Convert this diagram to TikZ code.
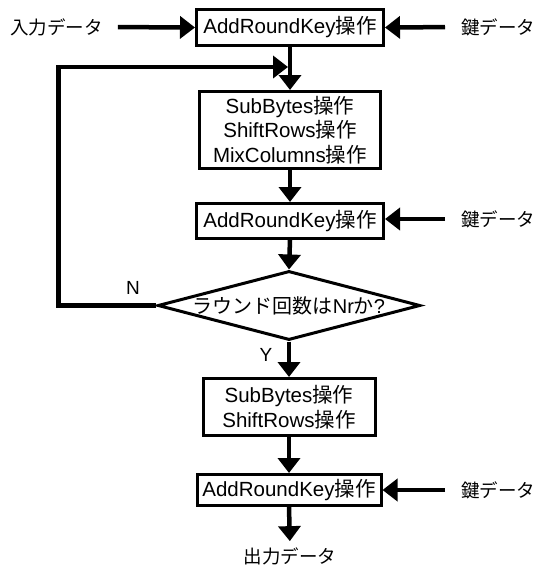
\documentclass[tikz,border=0pt]{standalone}
\usepackage{fontspec}
\setmainfont{Liberation Sans}
\newfontfamily\jpfont{Noto Sans CJK JP}
\newcommand{\jp}[1]{{\jpfont #1}}
\usetikzlibrary{arrows.meta,shapes.geometric}

\tikzset{
  opbox/.style={draw, line width=3pt, inner sep=0pt, align=center,
    font=\fontsize{20.5}{24.5}\selectfont},
  decide/.style={diamond, draw, line width=3pt, inner sep=0pt, aspect=3.8,
    minimum width=249pt, minimum height=64pt, font=\fontsize{20}{24}\selectfont},
  flow/.style={line width=4.5pt, -{Triangle[length=15pt,width=22pt]}},
  txt/.style={inner sep=0pt, font=\fontsize{18.5}{22}\selectfont}
}

\begin{document}
\begin{tikzpicture}[x=1pt,y=-1pt]
  \useasboundingbox (0,0) rectangle (539,570);

  % main column
  \node[opbox, minimum width=187pt, minimum height=36pt] at (290,27.5) (ark0) {AddRoundKey\jp{操作}};
  \node[opbox, minimum width=181pt, minimum height=77pt] at (290,130) (sub1) {SubBytes\jp{操作}\\ShiftRows\jp{操作}\\MixColumns\jp{操作}};
  \node[opbox, minimum width=187pt, minimum height=35pt] at (290,221) (ark1) {AddRoundKey\jp{操作}};
  \node[decide] at (289,305.5) (cond) {\jp{ラウンド回数は}Nr\jp{か}?};
  \node[opbox, minimum width=172pt, minimum height=57pt] at (289,407) (sub2) {SubBytes\jp{操作}\\ShiftRows\jp{操作}};
  \node[opbox, minimum width=184pt, minimum height=31pt] at (289,490) (ark2) {AddRoundKey\jp{操作}};

  % data labels
  \node[txt, anchor=west] at (10,27) (in) {\jp{入力データ}};
  \node[txt, anchor=west] at (461,27) (key0) {\jp{鍵データ}};
  \node[txt, anchor=west] at (461,219) (key1) {\jp{鍵データ}};
  \node[txt, anchor=west] at (461,490) (key2) {\jp{鍵データ}};
  \node[txt] at (290,556) (out) {\jp{出力データ}};
  \node[txt, font=\fontsize{19}{22}\selectfont] at (133,288) (no) {N};
  \node[txt, font=\fontsize{19}{22}\selectfont] at (266,355) (yes) {Y};

  \coordinate (join) at (290,67);

  \draw[flow, shorten <=15pt] (in.east) -- (ark0.west);
  \draw[flow, shorten <=16pt] (key0.west) -- (ark0.east);
  \draw[flow, shorten <=16pt] (key1.west) -- (ark1.east |- key1.west);
  \draw[flow, shorten <=16pt] (key2.west) -- (ark2.east);
  \draw[flow] (ark0.south) -- (sub1.north);
  \draw[flow] (sub1.south) -- (ark1.north);
  \draw[flow] (ark1.south) -- (cond.north);
  \draw[flow] (cond.south) -- (sub2.north);
  \draw[flow] (sub2.south) -- (ark2.north);
  \draw[flow, shorten >=6pt] (ark2.south) -- (out.north);
  \draw[flow, shorten >=2pt] (cond.west) -- ++(-98,0) |- (join);
\end{tikzpicture}
\end{document}
